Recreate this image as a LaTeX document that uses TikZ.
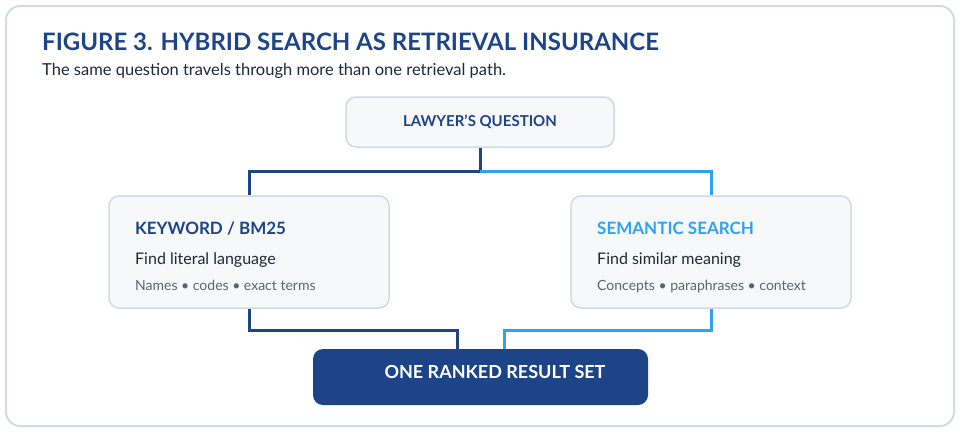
\documentclass[tikz,border=0pt]{standalone}
\usepackage{fontspec}
\setmainfont{Lato}
\definecolor{navy}{HTML}{1E4488}
\definecolor{sky}{HTML}{2EA3F2}
\definecolor{ink}{HTML}{1F2937}
\definecolor{muted}{HTML}{5B6470}
\definecolor{boxfill}{HTML}{F6F8FA}
\definecolor{boxline}{HTML}{D3DAE3}
\begin{document}
\begin{tikzpicture}[x=1pt,y=-1pt,
  card/.style={draw=boxline,line width=1.5pt,fill=boxfill,rounded corners=10pt},
  link/.style={line width=3pt},
  txt/.style={anchor=base west,inner sep=0pt}]
\useasboundingbox (0,0) rectangle (960,432);
\draw[draw=boxline,line width=2pt,fill=white,rounded corners=14pt] (6,6) rectangle (954,426);
\node[txt,font=\bfseries\fontsize{24}{28}\selectfont,text=navy] (title) at (42,50) {FIGURE 3. HYBRID SEARCH AS RETRIEVAL INSURANCE};
\node[txt,font=\fontsize{16.5}{20}\selectfont,text=ink] (sub) at (42,75) {The same question travels through more than one retrieval path.};
% connectors
\coordinate (j) at (480,171);
\coordinate (lb) at (249,330);
\coordinate (rb) at (711,330);
\node[card,minimum width=268pt,minimum height=50pt] (q) at (480,122) {};
\node[font=\bfseries\fontsize{15}{18}\selectfont,text=navy] (qt) at (q.center) {LAWYER'S QUESTION};
\node[card,minimum width=280pt,minimum height=112pt] (l) at (249,252) {};
\node[card,minimum width=280pt,minimum height=112pt] (r) at (711,252) {};
\node[fill=navy,rounded corners=10pt,minimum width=335pt,minimum height=56pt,inner sep=0pt] (o) at (480.5,377) {};
\draw[link,navy] (q.south) -- (j) -| (l.north);
\draw[link,sky] (j) -| (r.north);
\draw[link,navy] (l.south) |- (lb) -| ([xshift=-23.5pt]o.north);
\draw[link,sky] (r.south) |- (rb) -| ([xshift=23.5pt]o.north);
\node[font=\bfseries\fontsize{18}{22}\selectfont,text=white] (ot) at (495,372) {ONE RANKED RESULT SET};
% left card text
\node[txt,font=\bfseries\fontsize{17}{20}\selectfont,text=navy] (lh) at (135,234) {KEYWORD / BM25};
\node[txt,font=\fontsize{16}{19}\selectfont,text=ink] (l1) at (135,264) {Find literal language};
\node[txt,font=\fontsize{14}{17}\selectfont,text=muted] (l2) at (135,290) {Names • codes • exact terms};
% right card text
\node[txt,font=\bfseries\fontsize{17}{20}\selectfont,text=sky] (rh) at (597,234) {SEMANTIC SEARCH};
\node[txt,font=\fontsize{16}{19}\selectfont,text=ink] (r1) at (597,264) {Find similar meaning};
\node[txt,font=\fontsize{14}{17}\selectfont,text=muted] (r2) at (597,290) {Concepts • paraphrases • context};
\end{tikzpicture}
\end{document}
